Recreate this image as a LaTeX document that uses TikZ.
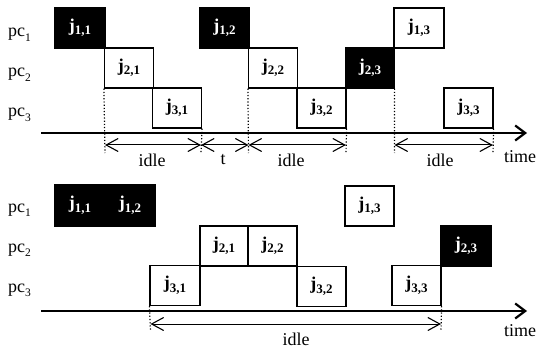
\documentclass[tikz,border=0pt]{standalone}
\usepackage{fontspec}
\setmainfont{Liberation Serif}
\usetikzlibrary{arrows.meta}
\newcommand\joblab[1]{{\fontsize{18}{18}\selectfont\bfseries j\raisebox{-3.5pt}{\fontsize{13}{13}\selectfont #1}}}
\newcommand\pclab[1]{{\fontsize{18}{18}\selectfont pc\raisebox{-4.5pt}{\fontsize{11.5}{11.5}\selectfont #1}}}
\begin{document}
\begin{tikzpicture}[x=1pt,y=-1pt,
  jobbox/.style={draw=black, line width=1.2pt, minimum width=49pt, minimum height=40pt, inner sep=0pt},
  blackjob/.style={jobbox, fill=black, text=white},
  axisline/.style={line width=2.6pt, -{Straight Barb[length=10pt,width=15pt,line width=2.2pt]}},
  dimline/.style={line width=1pt, {Straight Barb[length=12pt,width=13pt,line width=1.1pt]}-{Straight Barb[length=12pt,width=13pt,line width=1.1pt]}},
  guide/.style={dotted, line width=1.2pt},
  lab/.style={font=\fontsize{18}{18}\selectfont, inner sep=0pt},
  pcnode/.style={anchor=base west, inner sep=0pt}]
\useasboundingbox (0,0) rectangle (538,350);
% ---------------- top ----------------
\node[pcnode] (p1) at (8,37) {\pclab{1}};
\node[pcnode] (p2) at (8,77) {\pclab{2}};
\node[pcnode] (p3) at (8,117) {\pclab{3}};
\node[blackjob, minimum width=50pt] (a11) at (80,28) {\joblab{1,1}};
\node[jobbox] (a21) at (129,68) {\joblab{2,1}};
\node[jobbox] (a31) at (177,108) {\joblab{3,1}};
\node[blackjob] (a12) at (224.5,28) {\joblab{1,2}};
\node[jobbox] (a22) at (273,68) {\joblab{2,2}};
\node[jobbox] (a32) at (321.5,108) {\joblab{3,2}};
\node[blackjob, minimum width=48pt] (a23) at (370,68) {\joblab{2,3}};
\node[jobbox, minimum width=50pt] (a13) at (419,28) {\joblab{1,3}};
\node[jobbox] (a33) at (468.5,108) {\joblab{3,3}};
\coordinate (ta) at (41,133);
\coordinate (tb) at (527,133);
\draw[axisline] (ta) -- (tb);
\coordinate (d1) at (105,153);
\coordinate (d2) at (201,153);
\coordinate (d3) at (248.5,153);
\coordinate (d4) at (346,153);
\coordinate (d5) at (394.5,153);
\coordinate (d6) at (493,153);
\draw[guide] (a21.south west) -- (d1);
\draw[guide] (a31.south east) -- (d2);
\draw[guide] (a22.south west) -- (d3);
\draw[guide] (a32.south east) -- (d4);
\draw[guide] (a23.south east) -- (d5);
\draw[guide] (a33.south east) -- (d6);
\coordinate (e1) at (105,145);
\coordinate (e2) at (201,145);
\coordinate (e3) at (248.5,145);
\coordinate (e4) at (346,145);
\coordinate (e5) at (394.5,145);
\coordinate (e6) at (493,145);
\draw[dimline] (e1) -- (e2);
\draw[dimline] (e2) -- (e3);
\draw[dimline] (e3) -- (e4);
\draw[dimline] (e5) -- (e6);
\node[lab] (i1) at (152,160) {idle};
\node[lab] (t1) at (223,160) {t};
\node[lab] (i2) at (291,160) {idle};
\node[lab] (i3) at (440,160) {idle};
\node[lab] (tm1) at (520,157) {time};
% ---------------- bottom ----------------
\node[pcnode] (q1) at (8,212) {\pclab{1}};
\node[pcnode] (q2) at (8,252) {\pclab{2}};
\node[pcnode] (q3) at (8,292) {\pclab{3}};
\node[blackjob, minimum width=50pt, minimum height=41pt] (b11) at (80,205.5) {\joblab{1,1}};
\node[blackjob, minimum width=50pt, minimum height=41pt] (b12) at (130,205.5) {\joblab{1,2}};
\node[jobbox, minimum width=50pt] (b31) at (175,285.5) {\joblab{3,1}};
\node[jobbox, minimum width=48pt] (b21) at (224,246) {\joblab{2,1}};
\node[jobbox] (b22) at (272.5,246) {\joblab{2,2}};
\node[jobbox] (b32) at (321.5,286.5) {\joblab{3,2}};
\node[jobbox] (b13) at (369.5,206) {\joblab{1,3}};
\node[jobbox] (b33) at (416.5,285.5) {\joblab{3,3}};
\node[blackjob, minimum width=50pt] (b23) at (466,246) {\joblab{2,3}};
\coordinate (ba) at (41,311);
\coordinate (bb) at (527,311);
\draw[axisline] (ba) -- (bb);
\coordinate (f1) at (150.5,331);
\coordinate (f2) at (441,331);
\draw[guide] (b31.south west) -- (f1);
\draw[guide] (b33.south east) -- (f2);
\coordinate (g1) at (150.5,324);
\coordinate (g2) at (441,324);
\draw[dimline] (g1) -- (g2);
\node[lab] (i4) at (296,339) {idle};
\node[lab] (tm2) at (520,331) {time};
\end{tikzpicture}
\end{document}
